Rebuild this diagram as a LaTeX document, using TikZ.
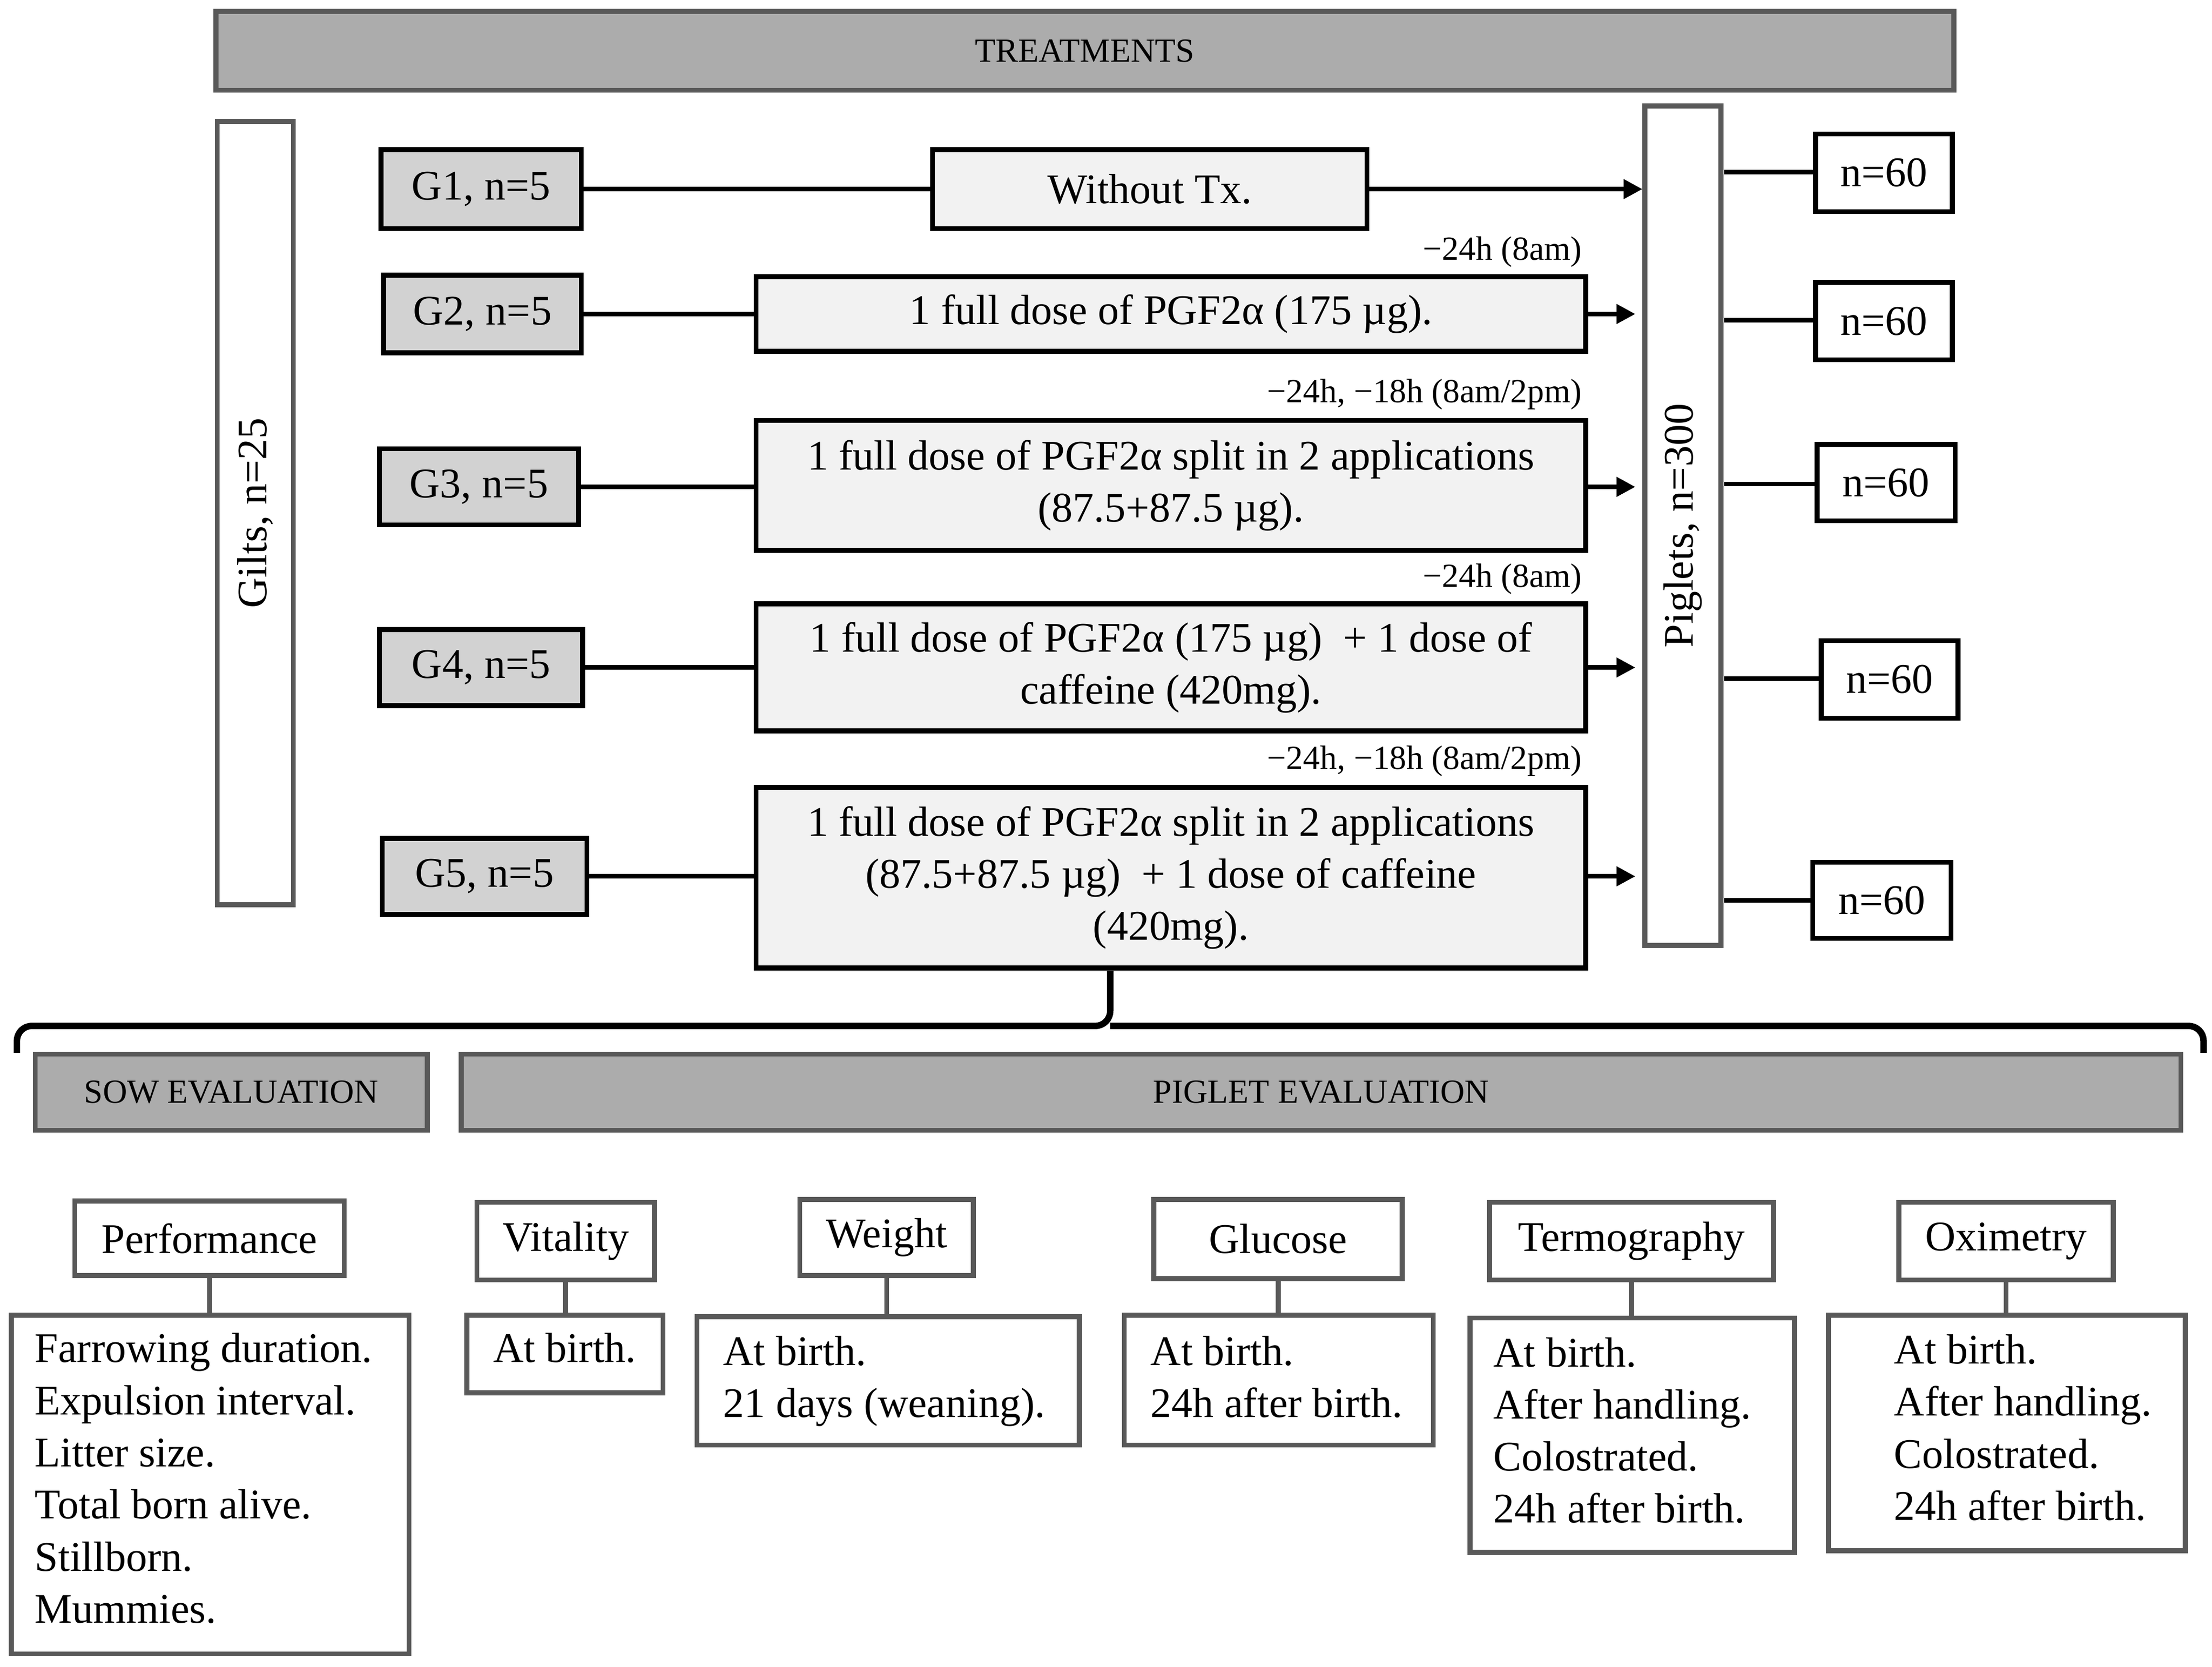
\documentclass[tikz,border=0pt]{standalone}
\usepackage{fontspec}
\setmainfont{Liberation Serif}
\usetikzlibrary{arrows.meta}
\begin{document}
\newcommand\bx[7]{\node[#6, minimum width={(#4-#2)*0.01cm}, minimum height={(#5-#3)*0.01cm}] (#1) at ({(#2+#4)/2},{(#3+#5)/2}) {#7};}
\begin{tikzpicture}[x=0.01cm,y=-0.01cm,
  every node/.style={inner sep=0pt,font=\fontsize{8.5}{10.5}\selectfont},
  hdr/.style={draw=gray!70!black,fill=gray!65,line width=1pt,font=\fontsize{6.8}{8}\selectfont},
  gb/.style={draw=black,fill=gray!35,line width=1pt},
  tb/.style={draw=black,fill=gray!10,line width=1pt,align=center},
  nb/.style={draw=black,fill=white,line width=1pt},
  wb/.style={draw=gray!70!black,fill=white,line width=1pt},
  con/.style={line width=0.9pt},
  arr/.style={line width=0.9pt,-{Triangle[length=3.8pt,width=3.8pt]}},
  sm/.style={font=\fontsize{6.8}{8}\selectfont,anchor=south east},
  lst/.style={anchor=north west,align=left}]
\useasboundingbox (0,0) rectangle (1568,1181);
\bx{tr}{153}{8}{1385}{64}{hdr}{TREATMENTS}
\bx{gilts}{154}{86}{208}{641}{wb}{\rotatebox{90}{Gilts, n=25}}
\bx{pig}{1166}{75}{1220}{670}{wb}{\rotatebox{90}{Piglets, n=300}}
\bx{g1}{270}{106}{412}{162}{gb}{G1, n=5}
\bx{g2}{272}{195}{412}{250}{gb}{G2, n=5}
\bx{g3}{269}{318}{410}{372}{gb}{G3, n=5}
\bx{g4}{269}{446}{413}{500}{gb}{G4, n=5}
\bx{g5}{271}{594}{416}{648}{gb}{G5, n=5}
\bx{t1}{661}{106}{969}{162}{tb}{Without Tx.}
\bx{t2}{536}{196}{1124}{249}{tb}{1 full dose of PGF2α (175 µg).}
\bx{t3}{536}{298}{1124}{390}{tb}{1 full dose of PGF2α split in 2 applications\\(87.5+87.5 µg).}
\bx{t4}{536}{428}{1124}{518}{tb}{1 full dose of PGF2α (175 µg) \ + 1 dose of\\caffeine (420mg).}
\bx{t5}{536}{558}{1124}{686}{tb}{1 full dose of PGF2α split in 2 applications\\(87.5+87.5 µg) \ + 1 dose of caffeine\\(420mg).}
\node[sm] at (1122,190) {−24h (8am)};
\node[sm] at (1122,291) {−24h, −18h (8am/2pm)};
\node[sm] at (1122,422) {−24h (8am)};
\node[sm] at (1122,551) {−24h, −18h (8am/2pm)};
\bx{n1}{1287}{95}{1384}{150}{nb}{n=60}
\bx{n2}{1287}{200}{1384}{255}{nb}{n=60}
\bx{n3}{1288}{315}{1386}{369}{nb}{n=60}
\bx{n4}{1291}{454}{1388}{509}{nb}{n=60}
\bx{n5}{1285}{611}{1383}{665}{nb}{n=60}
\draw[con] (g1) -- (t1);
\draw[arr] (t1) -- (pig.west|-t1);
\foreach \i in {2,3,4,5}{
  \draw[con] (g\i) -- (t\i.west|-g\i);
  \draw[arr] (t\i.east|-g\i) -- ([xshift=-0.05cm]pig.west|-g\i);}
\foreach \i/\y in {1/122,2/227,3/343,4/481,5/638}{
  \coordinate (p\i) at (1222,\y);
  \draw[con] (p\i) -- (n\i.west|-p\i);}
\coordinate (bl) at (12,746); \coordinate (br) at (1562,746);
\coordinate (bt) at (787,688);
\draw[line width=1.3pt,rounded corners=3pt] (bl) |- (787,727) -- (bt);
\draw[line width=1.3pt,rounded corners=3pt] (787,727) -| (br);
\bx{sow}{25}{747}{303}{801}{hdr}{SOW EVALUATION}
\bx{pe}{327}{747}{1546}{801}{hdr}{PIGLET EVALUATION}
\bx{h1}{53}{851}{244}{904}{wb}{Performance}
\bx{h2}{338}{852}{464}{907}{wb}{Vitality}
\bx{h3}{567}{850}{690}{904}{wb}{Weight}
\bx{h4}{818}{850}{994}{906}{wb}{Glucose}
\bx{h5}{1056}{852}{1257}{907}{wb}{Termography}
\bx{h6}{1346}{852}{1498}{907}{wb}{Oximetry}
\bx{c1}{8}{932}{290}{1172}{wb}{}
\bx{c2}{331}{932}{470}{987}{wb}{}
\bx{c3}{494}{933}{765}{1024}{wb}{}
\bx{c4}{797}{932}{1016}{1024}{wb}{}
\bx{c5}{1042}{934}{1272}{1100}{wb}{}
\bx{c6}{1296}{932}{1549}{1099}{wb}{}
\foreach \i in {1,...,6}{\draw[draw=gray!70!black,line width=1pt] (h\i.south) -- (h\i.south|-c\i.north);}
\node[lst] (l1) at (24,944) {Farrowing duration.\\Expulsion interval.\\Litter size.\\Total born alive.\\Stillborn.\\Mummies.};
\node[lst] (l2) at (349,944) {At birth.};
\node[lst] (l3) at (512,946) {At birth.\\21 days (weaning).};
\node[lst] (l4) at (815,946) {At birth.\\24h after birth.};
\node[lst] (l5) at (1058,947) {At birth.\\After handling.\\Colostrated.\\24h after birth.};
\node[lst] (l6) at (1342,945) {At birth.\\After handling.\\Colostrated.\\24h after birth.};
\end{tikzpicture}
\end{document}
